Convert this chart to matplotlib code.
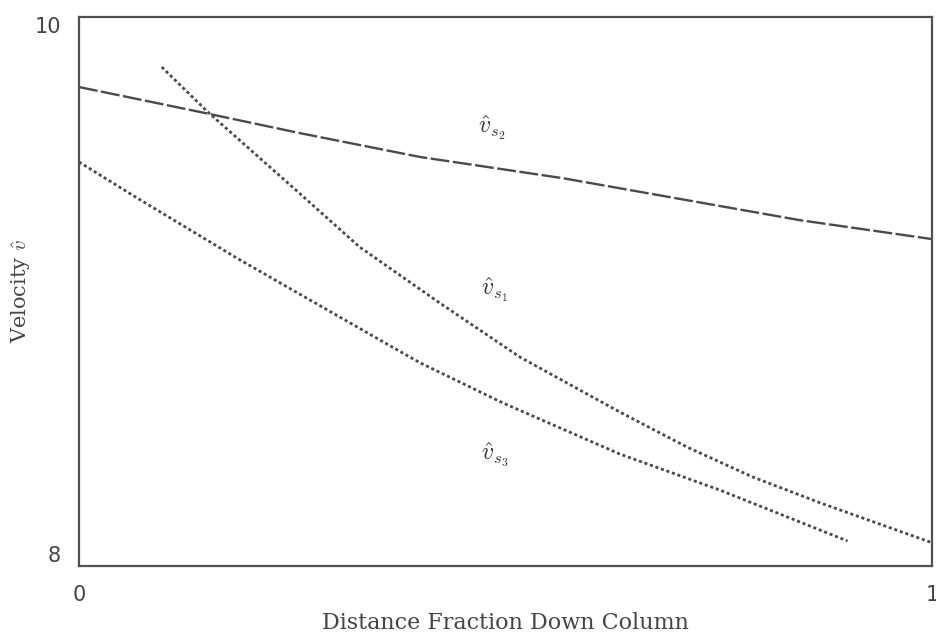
import matplotlib
matplotlib.use("Agg")
import matplotlib.pyplot as plt

plt.rcParams["mathtext.fontset"] = "cm"

# Velocity profiles along the column (fraction of column length -> velocity)
x_s2 = [0.0, 0.142, 0.259, 0.400, 0.567, 0.845, 1.0]
v_s2 = [9.745, 9.654, 9.577, 9.490, 9.413, 9.260, 9.191]

x_s1 = [0.097, 0.151, 0.257, 0.329, 0.423, 0.517, 0.634, 0.713, 0.790, 0.869, 0.998]
v_s1 = [9.818, 9.654, 9.362, 9.162, 8.958, 8.761, 8.561, 8.433, 8.324, 8.230, 8.087]

x_s3 = [0.0, 0.068, 0.185, 0.236, 0.353, 0.400, 0.497, 0.634, 0.751, 0.830, 0.901]
v_s3 = [9.472, 9.341, 9.122, 9.031, 8.823, 8.740, 8.594, 8.408, 8.277, 8.179, 8.091]

curve_labels = [r"$\hat{v}_{s_2}$", r"$\hat{v}_{s_1}$", r"$\hat{v}_{s_3}$"]
label_x = [0.484, 0.487, 0.487]
label_y = [9.596, 9.005, 8.404]

x_ticks = [0, 1]
y_ticks = [8, 10]

line_color = "#4a4a4a"

fig = plt.figure(figsize=(9.37, 6.4), dpi=100)
ax = fig.add_axes([0.0843, 0.1156, 0.9104, 0.8578])

ax.plot(x_s2, v_s2, color=line_color, lw=1.7, dashes=(8, 1.5))
ax.plot(x_s1, v_s1, color=line_color, lw=2.0, dashes=(1.1, 1.0))
ax.plot(x_s3, v_s3, color=line_color, lw=2.0, dashes=(1.1, 1.0))

for lab, lx, ly in zip(curve_labels, label_x, label_y):
    ax.text(lx, ly, lab, fontsize=17, color="#333333", ha="center", va="center")

ax.set_xlim(0, 1)
ax.set_ylim(8, 10)
ax.set_xticks(x_ticks)
ax.set_xticklabels([str(t) for t in x_ticks])
ax.set_yticks(y_ticks)
ax.set_yticklabels([str(t) for t in y_ticks])
ax.tick_params(length=0, labelsize=15, labelcolor="#444444")
ax.tick_params(axis="x", pad=14)
ax.tick_params(axis="y", pad=13)
ylabs = ax.get_yticklabels()
ylabs[0].set_va("bottom")
ylabs[1].set_va("top")

for sp in ax.spines.values():
    sp.set_color("#505050")
    sp.set_linewidth(1.6)

ax.set_xlabel("Distance Fraction Down Column", family="DejaVu Serif",
              fontsize=16, color="#444444", labelpad=5)
ax.set_ylabel(r"Velocity $\hat{v}$", family="DejaVu Serif",
              fontsize=15, color="#444444", labelpad=2)

fig.savefig("out.png", dpi=100, facecolor="white")
